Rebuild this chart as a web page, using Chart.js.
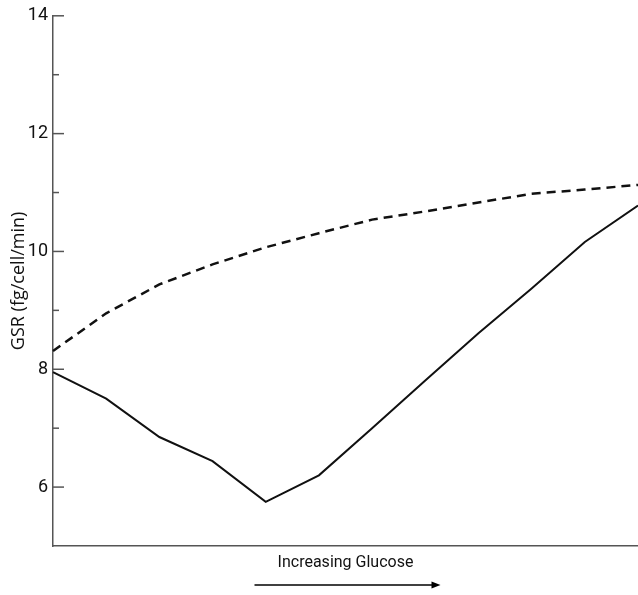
<!DOCTYPE html>
<html>
<head>
<meta charset="utf-8">
<script src="https://cdn.jsdelivr.net/npm/chart.js@4"></script>
<style>
  html, body { margin: 0; padding: 0; background: #fff; }
</style>
</head>
<body>
<canvas id="graph-1" width="638" height="595"></canvas>
<script>
// glucose steps (unlabelled on the x axis)
const glucoseSteps = ['', '', '', '', '', '', '', '', '', '', '', ''];
// solid curve
const gsrSolid = [7.95, 7.50, 6.85, 6.44, 5.75, 6.20, 7.00, 7.81, 8.61, 9.37, 10.16, 10.78];
// dashed curve
const gsrDashed = [8.31, 8.95, 9.44, 9.78, 10.07, 10.31, 10.54, 10.68, 10.83, 10.98, 11.05, 11.13];
const yTickLabels = [6, 8, 10, 12, 14];

const narrow = "'Liberation Sans Narrow', 'Roboto', sans-serif";

// inward tick marks + arrow under the x title
const extras = {
  id: 'extras',
  afterDraw(chart) {
    const ctx = chart.ctx;
    const y = chart.scales.y;
    const area = chart.chartArea;
    ctx.save();
    ctx.strokeStyle = '#555';
    ctx.lineWidth = 1.5;
    y.ticks.forEach(t => {
      if (t.value <= y.min) return;
      const py = y.getPixelForValue(t.value);
      const len = yTickLabels.includes(t.value) ? 11 : 6;
      ctx.beginPath();
      ctx.moveTo(area.left, py);
      ctx.lineTo(area.left + len, py);
      ctx.stroke();
    });

    const cx = (area.left + area.right) / 2;
    const ay = chart.height - 10;
    const x0 = cx - 91, x1 = cx + 95;
    ctx.strokeStyle = '#000';
    ctx.fillStyle = '#000';
    ctx.lineWidth = 1.5;
    ctx.beginPath();
    ctx.moveTo(x0, ay);
    ctx.lineTo(x1 - 6, ay);
    ctx.stroke();
    ctx.beginPath();
    ctx.moveTo(x1, ay);
    ctx.lineTo(x1 - 9, ay - 3.5);
    ctx.lineTo(x1 - 9, ay + 3.5);
    ctx.closePath();
    ctx.fill();
    ctx.restore();
  }
};

const config = {
  type: 'line',
  data: {
    labels: glucoseSteps,
    datasets: [
      {
        label: 'solid',
        data: gsrSolid,
        borderColor: '#111',
        borderWidth: 2,
        pointRadius: 0,
        tension: 0
      },
      {
        label: 'dashed',
        data: gsrDashed,
        borderColor: '#111',
        borderWidth: 2.5,
        borderDash: [9, 6],
        pointRadius: 0,
        tension: 0
      }
    ]
  },
  options: {
    responsive: false,
    animation: false,
    layout: { padding: { top: 15, right: 0, left: 0, bottom: 0 } },
    plugins: {
      legend: { display: false },
      tooltip: { enabled: false }
    },
    scales: {
      x: {
        offset: false,
        grid: { display: true, drawOnChartArea: false, drawTicks: false },
        border: { display: true, color: '#555', width: 1.5 },
        ticks: { display: false },
        title: {
          display: true,
          text: 'Increasing Glucose',
          color: '#111',
          font: { family: narrow, size: 16 },
          padding: { top: 0, bottom: 22 }
        },
        afterFit(scale) { scale.height = 49; }
      },
      y: {
        min: 5,
        max: 14,
        grid: { display: true, drawOnChartArea: false, drawTicks: false },
        border: { display: true, color: '#555', width: 1.5 },
        ticks: {
          stepSize: 1,
          padding: 5,
          color: '#111',
          font: { family: narrow, size: 18 },
          callback: v => yTickLabels.includes(v) ? String(v) : ''
        },
        title: {
          display: true,
          text: 'GSR (fg/cell/min)',
          color: '#111',
          font: { family: "'Open Sans', sans-serif", size: 18 },
          padding: { top: 8, bottom: 0 }
        },
        afterFit(scale) { scale.width = 53; }
      }
    }
  },
  plugins: [extras]
};

const chart = new Chart(document.querySelector('#graph-1'), config);
</script>
</body>
</html>
